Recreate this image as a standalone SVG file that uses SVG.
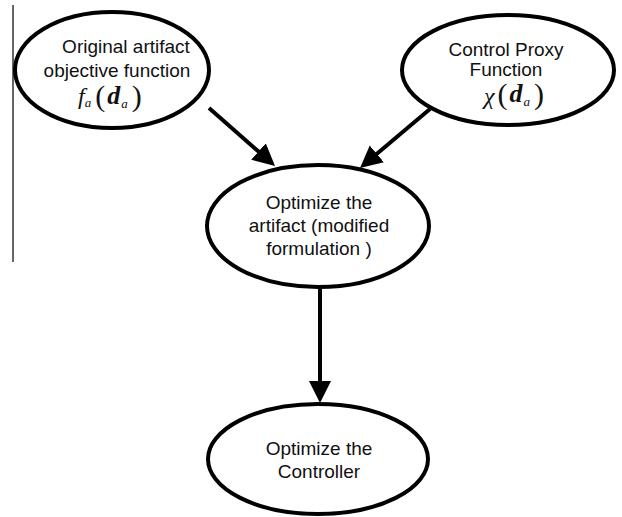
<svg xmlns="http://www.w3.org/2000/svg" width="622" height="517" viewBox="0 0 622 517">
<style>
.node ellipse{fill:#fff;stroke:#000;stroke-width:4}
.lbl{font-family:"Liberation Sans",Arial,sans-serif;font-size:19px;fill:#111;text-anchor:middle}
.math{font-family:"Liberation Serif","Times New Roman",serif;fill:#111}
.conn line{stroke:#000;stroke-width:4}
</style>
<defs>
<marker id="ah" markerUnits="userSpaceOnUse" markerWidth="24" markerHeight="24" refX="10" refY="11" orient="auto">
<path d="M0,0 L22,11 L0,22 z" fill="#000"/>
</marker>
</defs>
<rect width="622" height="517" fill="#fff"/>
<line x1="13" y1="5" x2="13" y2="262" stroke="#333" stroke-width="1.5"/>
<g class="conn">
<line x1="209" y1="108" x2="266" y2="158.1" marker-end="url(#ah)"/>
<line x1="430" y1="109" x2="369.2" y2="160.3" marker-end="url(#ah)"/>
<line x1="320" y1="288" x2="320" y2="391" marker-end="url(#ah)"/>
</g>
<g id="n1" class="node">
<ellipse cx="112" cy="70" rx="97" ry="58"/>
<text class="lbl" x="126" y="53">Original artifact</text>
<text class="lbl" x="117" y="77">objective function</text>
<text class="math" x="78" y="104"><tspan font-style="italic" font-size="24">f</tspan><tspan font-style="italic" font-size="13" dy="3">a</tspan><tspan font-size="30" dy="-1" dx="4">(</tspan><tspan font-style="italic" font-weight="bold" font-size="26" dx="2" dy="-2">d</tspan><tspan font-style="italic" font-size="13" dy="4" dx="1">a</tspan><tspan font-size="30" dy="-2" dx="4">)</tspan></text>
</g>
<g id="n2" class="node">
<ellipse cx="508" cy="70" rx="106" ry="55"/>
<text class="lbl" x="506" y="56">Control Proxy</text>
<text class="lbl" x="506" y="76">Function</text>
<text class="math" x="484" y="104"><tspan font-style="italic" font-size="24">χ</tspan><tspan font-size="30" dx="3">(</tspan><tspan font-style="italic" font-weight="bold" font-size="26" dx="2" dy="-2">d</tspan><tspan font-style="italic" font-size="13" dy="4" dx="1">a</tspan><tspan font-size="30" dy="-2" dx="4">)</tspan></text>
</g>
<g id="n3" class="node">
<ellipse cx="318" cy="226" rx="111" ry="61"/>
<text class="lbl" x="319" y="209">Optimize the</text>
<text class="lbl" x="319" y="232">artifact (modified</text>
<text class="lbl" x="319" y="255">formulation )</text>
</g>
<g id="n4" class="node">
<ellipse cx="318" cy="459" rx="110" ry="55"/>
<text class="lbl" x="319" y="455">Optimize the</text>
<text class="lbl" x="319" y="478">Controller</text>
</g>
</svg>
